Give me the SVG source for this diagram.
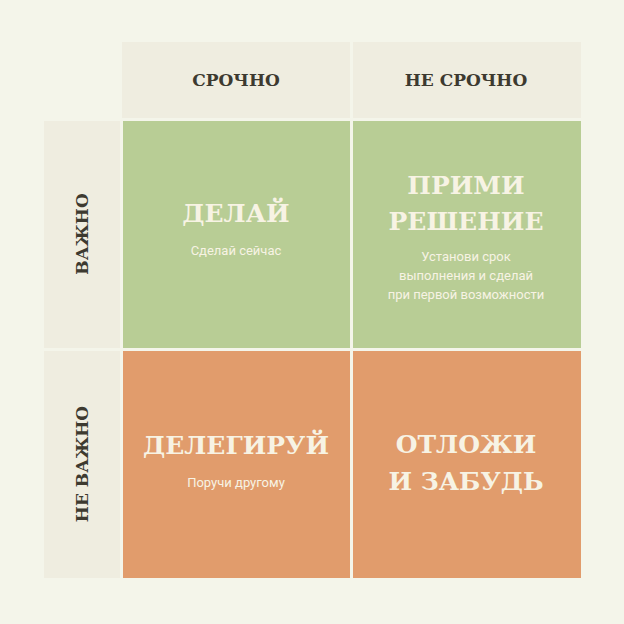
<svg xmlns="http://www.w3.org/2000/svg" width="624" height="624" viewBox="0 0 624 624">
<style>
.hd{fill:#efede0}
.g{fill:#b8cd95}
.o{fill:#e19c6c}
.ht{font-family:"DejaVu Serif",serif;font-weight:bold;font-size:17px;fill:#3d3a30;text-anchor:middle;dominant-baseline:central}
.big{font-family:"DejaVu Serif",serif;font-weight:bold;font-size:25px;fill:#f7f3e4;text-anchor:middle;dominant-baseline:central}
.sm{font-family:"Roboto","DejaVu Sans",sans-serif;font-size:13px;fill:#f7f3e4;text-anchor:middle;dominant-baseline:central}
</style>
<rect width="624" height="624" fill="#f4f5ea"/>
<g id="h1"><rect class="hd" x="122" y="42" width="228" height="76"/><text class="ht" x="236" y="80">СРОЧНО</text></g>
<g id="h2"><rect class="hd" x="353" y="42" width="228" height="76"/><text class="ht" x="466" y="80">НЕ СРОЧНО</text></g>
<g id="v1"><rect class="hd" x="44" y="121" width="76" height="227"/><text class="ht" x="82" y="234" transform="rotate(-90 82 234)">ВАЖНО</text></g>
<g id="v2"><rect class="hd" x="44" y="351" width="76" height="227"/><text class="ht" x="82" y="464" transform="rotate(-90 82 464)">НЕ ВАЖНО</text></g>
<g id="q1"><rect class="g" x="123" y="121" width="227" height="227"/><text class="big" x="236" y="213">ДЕЛАЙ</text><text class="sm" x="236" y="250">Сделай сейчас</text></g>
<g id="q2"><rect class="g" x="353" y="121" width="228" height="227"/><text class="big" x="466" y="185">ПРИМИ</text><text class="big" x="466" y="221">РЕШЕНИЕ</text><text class="sm" x="466" y="256">Установи срок</text><text class="sm" x="466" y="275">выполнения и сделай</text><text class="sm" x="466" y="294">при первой возможности</text></g>
<g id="q3"><rect class="o" x="123" y="351" width="227" height="227"/><text class="big" x="236" y="445">ДЕЛЕГИРУЙ</text><text class="sm" x="236" y="482">Поручи другому</text></g>
<g id="q4"><rect class="o" x="353" y="351" width="228" height="227"/><text class="big" x="466" y="444">ОТЛОЖИ</text><text class="big" x="466" y="481">И ЗАБУДЬ</text></g>
<g id="connectors"/>
</svg>
